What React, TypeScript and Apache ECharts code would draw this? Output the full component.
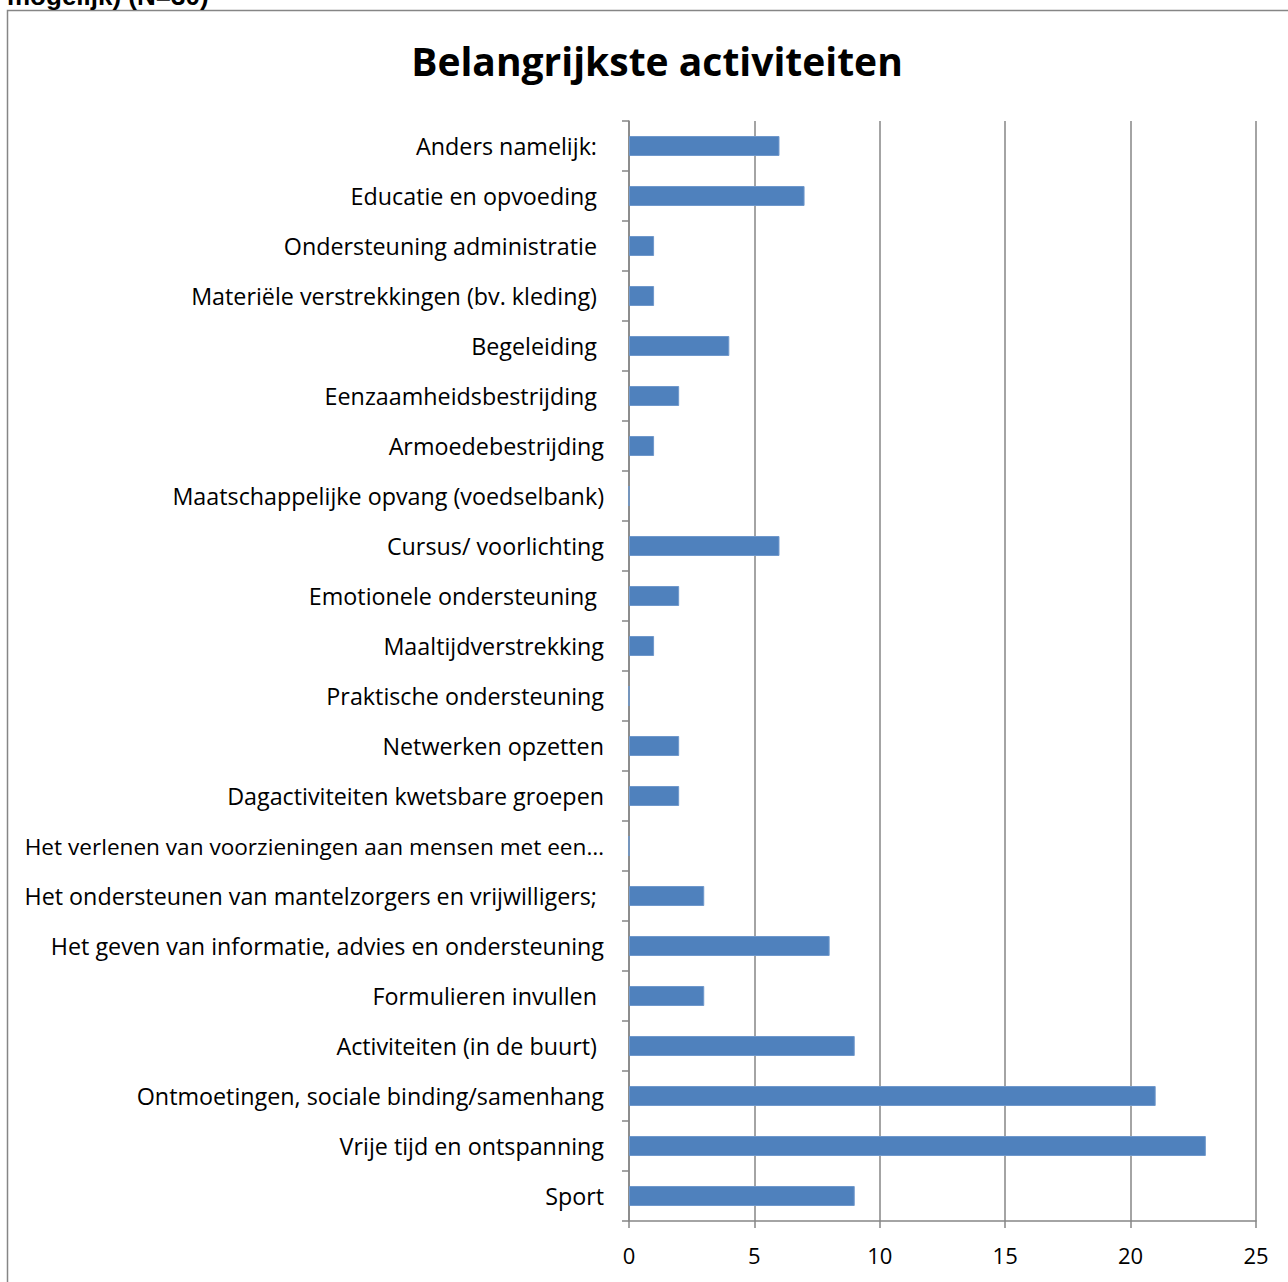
import React, { useEffect, useRef } from "react";
import * as echarts from "echarts";

const categories = [
  "Anders namelijk:",
  "Educatie en opvoeding",
  "Ondersteuning administratie",
  "Materiële verstrekkingen (bv. kleding)",
  "Begeleiding",
  "Eenzaamheidsbestrijding",
  "Armoedebestrijding",
  "Maatschappelijke opvang (voedselbank)",
  "Cursus/ voorlichting",
  "Emotionele ondersteuning",
  "Maaltijdverstrekking",
  "Praktische ondersteuning",
  "Netwerken opzetten",
  "Dagactiviteiten kwetsbare groepen",
  "Het verlenen van voorzieningen aan mensen met een…",
  "Het ondersteunen van mantelzorgers en vrijwilligers;",
  "Het geven van informatie, advies en ondersteuning",
  "Formulieren invullen",
  "Activiteiten (in de buurt)",
  "Ontmoetingen, sociale binding/samenhang",
  "Vrije tijd en ontspanning",
  "Sport",
];

// labels that carry a trailing space in the original (end a bit further left)
const paddedLabels = [
  "Anders namelijk:",
  "Educatie en opvoeding",
  "Ondersteuning administratie",
  "Materiële verstrekkingen (bv. kleding)",
  "Begeleiding",
  "Eenzaamheidsbestrijding",
  "Emotionele ondersteuning",
  "Het ondersteunen van mantelzorgers en vrijwilligers;",
  "Formulieren invullen",
  "Activiteiten (in de buurt)",
];

// label truncated with an ellipsis in the original
const truncatedLabels = ["Het verlenen van voorzieningen aan mensen met een…"];

const values = [6, 7, 1, 1, 4, 2, 1, 0, 6, 2, 1, 0, 2, 2, 0, 3, 8, 3, 9, 21, 23, 9];

const xTicks = { min: 0, max: 25, interval: 5 };

const title = "Belangrijkste activiteiten";
const cutText = "mogelijk) (N=30)";

const FONT = "'Open Sans', 'Noto Sans', sans-serif";

export default function App() {
  const ref = useRef<HTMLDivElement>(null);
  useEffect(() => {
    document.body.style.margin = "0";
    const chart = echarts.init(ref.current!, null, { renderer: "svg" });
    chart.setOption({
      animation: false,
      backgroundColor: "#ffffff",
      textStyle: { fontFamily: FONT },
      graphic: [
        {
          type: "rect",
          shape: { x: 7.5, y: 10.5, width: 1400, height: 1400 },
          style: { fill: "none", stroke: "#868686", lineWidth: 1.5 },
          silent: true,
        },
        {
          type: "text",
          x: 7,
          y: 9,
          style: {
            text: cutText,
            font: "bold 26px 'Liberation Sans', Arial, sans-serif",
            fill: "#000",
            textVerticalAlign: "bottom",
          },
        },
      ],
      title: {
        text: title,
        left: 652,
        textAlign: "center",
        top: 36,
        textStyle: {
          fontFamily: FONT,
          fontSize: 39,
          fontWeight: "bold",
          color: "#000",
        },
      },
      grid: { left: 629, right: 32, top: 121, bottom: 61, containLabel: false },
      xAxis: {
        type: "value",
        min: xTicks.min,
        max: xTicks.max,
        interval: xTicks.interval,
        axisLine: { show: true, lineStyle: { color: "#868686", width: 1.5 } },
        axisTick: { show: true, length: 7, lineStyle: { color: "#868686", width: 1.5 } },
        splitLine: { show: true, lineStyle: { color: "#868686", width: 1.5 } },
        axisLabel: { color: "#000", fontSize: 22, margin: 23, fontFamily: FONT },
      },
      yAxis: {
        type: "category",
        inverse: true,
        data: categories,
        axisLine: { show: true, lineStyle: { color: "#868686", width: 1.5 } },
        axisTick: { show: true, length: 7, lineStyle: { color: "#868686", width: 1.5 } },
        axisLabel: {
          color: "#000",
          fontSize: 23.3,
          margin: 25,
          fontFamily: FONT,
          formatter: (v: string) =>
            truncatedLabels.includes(v)
              ? `{e|${v}}`
              : paddedLabels.includes(v)
              ? `{p|${v}}`
              : `{n|${v}}`,
          rich: {
            p: { fontSize: 23.3, fontFamily: FONT, color: "#000", padding: [0, 7, 0, 0] },
            n: { fontSize: 23.3, fontFamily: FONT, color: "#000" },
            e: { fontSize: 22.6, fontFamily: FONT, color: "#000" },
          },
        },
      },
      series: [
        {
          type: "bar",
          data: values,
          barWidth: 20,
          itemStyle: { color: "#4f81bd", borderColor: "#6f98cc", borderWidth: 1 },
        },
      ],
    });
    return () => chart.dispose();
  }, []);
  return <div ref={ref} style={{ width: 1288, height: 1282 }} />;
}
